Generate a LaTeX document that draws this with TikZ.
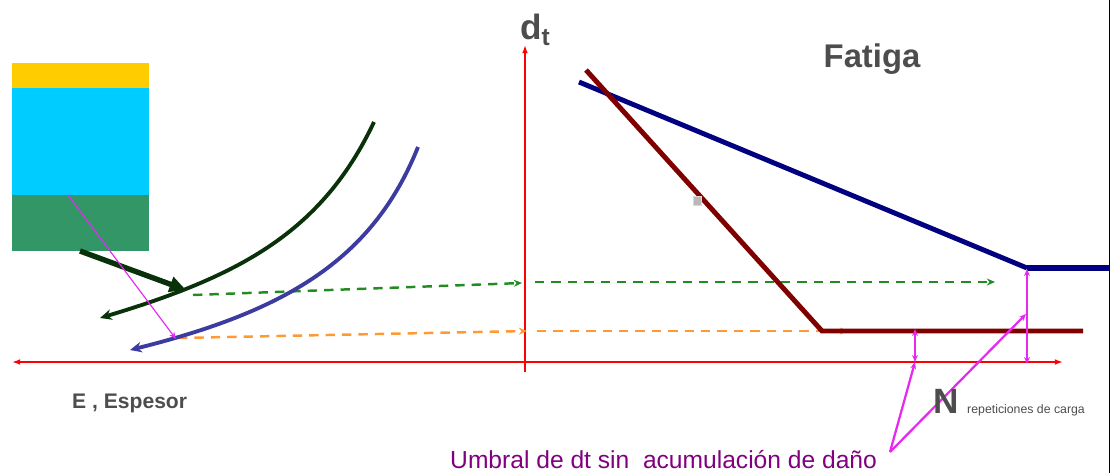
\documentclass[tikz,border=0pt]{standalone}
\usepackage{fontspec}
\setmainfont{Liberation Sans}
\usetikzlibrary{arrows.meta, positioning, calc}

\definecolor{layeryellow}{RGB}{255,204,0}
\definecolor{layercyan}{RGB}{0,204,255}
\definecolor{layergreen}{RGB}{51,150,102}
\definecolor{darkcurve}{RGB}{10,50,10}
\definecolor{bluecurve}{RGB}{60,60,160}
\definecolor{navyline}{RGB}{0,0,128}
\definecolor{brownline}{RGB}{128,0,0}
\definecolor{dashgreen}{RGB}{34,139,34}
\definecolor{dashorange}{RGB}{255,153,51}
\definecolor{labelgray}{RGB}{77,77,77}
\definecolor{umbral}{RGB}{128,0,128}
\definecolor{pointer}{RGB}{230,40,240}

\begin{document}
\begin{tikzpicture}[
    x=0.03cm, y=-0.03cm,
    axis/.style={draw=red, line width=1.5pt},
    law/.style={line width=4.2pt},
    curve/.style={line width=3.3pt, -{Stealth[length=10pt, width=9pt]}},
    proj/.style={dashed, dash pattern=on 8pt off 6pt, line width=2.1pt, -{Stealth[length=7pt, width=6pt]}},
    marker/.style={draw=pointer, line width=1.9pt},
    title/.style={font=\bfseries, text=labelgray, inner sep=0pt},
]
\useasboundingbox (0,0) rectangle (1117,473);

% pavement layers
\fill[layeryellow] (12,63) rectangle (149,88);
\fill[layercyan] (12,88) rectangle (149,195);
\fill[layergreen] (12,195) rectangle (149,251);

% axes
\coordinate (origin) at (525,362);
\coordinate (xleft) at (12,362);
\coordinate (xright) at (1063,362);
\coordinate (ybot) at (525,372);
\coordinate (ytop) at (525,45);
\draw[axis, -{Latex[length=7pt, width=5pt]}] (origin) -- (xleft);
\draw[axis, -{Latex[length=7pt, width=5pt]}] (origin) -- (xright);
\draw[axis, -{Latex[length=7pt, width=5pt]}] (ybot) -- (ytop);

% projections
\coordinate (gstart) at (193,295);
\coordinate (gmid) at (522,283);
\coordinate (gnext) at (535,282);
\coordinate (gend) at (995,282);
\coordinate (ostart) at (178,338);
\coordinate (omid) at (527,331);
\coordinate (onext) at (537,331);
\coordinate (oend) at (848,331);
\draw[proj, dashgreen] (gstart) -- (gmid);
\draw[proj, dashgreen] (gnext) -- (gend);
\draw[proj, dashorange] (ostart) -- (omid);
\draw[proj, dashorange] (onext) -- (oend);

% deflection curves
\coordinate (c1a) at (374,122);
\coordinate (c1b) at (100,318);
\coordinate (c2a) at (418,147);
\coordinate (c2b) at (130,350);
\draw[curve, darkcurve] (c1a) .. controls (322,232) and (240,276) .. (c1b);
\draw[curve, bluecurve] (c2a) .. controls (372,262) and (282,312) .. (c2b);

% pointers from layers
\coordinate (p1a) at (80,251);
\coordinate (p1b) at (186,290);
\coordinate (p2a) at (68,195);
\coordinate (p2b) at (176,339);
\draw[darkcurve, line width=4.6pt, -{Triangle[length=14pt, width=13pt]}] (p1a) -- (p1b);
\draw[pointer, line width=1pt, -{Stealth[length=6pt, width=5pt]}] (p2a) -- (p2b);

% fatigue laws
\coordinate (b1) at (579,82);
\coordinate (b2) at (1027,268);
\coordinate (b3) at (1110,268);
\coordinate (r1) at (586,70);
\coordinate (r2) at (822,331);
\coordinate (r3) at (1083,331);
\draw[law, navyline] (b1) -- (b2);
\draw[navyline, line width=5.6pt] (b2) -- (b3);
\draw[law, brownline] (r1) -- (r2) -- (r3);

% small icon
\node[fill=gray!55, draw=gray!30, minimum width=7pt, minimum height=8pt, inner sep=0pt] (icon) at (697,201) {};

% threshold marks
\coordinate (tip) at (890,452);
\coordinate (m1a) at (915,362);
\coordinate (m1b) at (915,329);
\coordinate (m2a) at (1027,364);
\coordinate (m2b) at (1027,269);
\coordinate (m2c) at (1026,314);
\draw[marker, {Stealth[length=6pt, width=5pt]}-{Stealth[length=6pt, width=5pt]}] (m1a) -- (m1b);
\draw[marker, {Stealth[length=6pt, width=5pt]}-{Stealth[length=6pt, width=5pt]}] (m2a) -- (m2b);
\draw[marker, -{Stealth[length=6pt, width=5pt]}] (tip) -- (m1a);
\draw[marker, -{Stealth[length=6pt, width=5pt]}] (tip) -- (m2c);

% frame edge
\draw[black, line width=0.8pt] (1109,0) -- (1109,473);

% labels
\node[title, font=\bfseries\fontsize{30}{30}\selectfont, anchor=base west] (dt) at (520,39) {d\textsubscript{t}};
\node[title, font=\bfseries\fontsize{28}{28}\selectfont, anchor=base] (fatiga) at (872,67) {Fatiga};
\node[title, font=\bfseries\fontsize{18}{18}\selectfont, anchor=base west] (espesor) at (72,408) {E , Espesor};
\node[title, font=\bfseries\fontsize{30}{30}\selectfont, anchor=base west] (nlabel) at (933,413) {N};
\node[text=labelgray, font=\fontsize{10.5}{11}\selectfont, inner sep=0pt, anchor=base west] (rep) at (967,413) {repeticiones de carga};
\node[text=umbral, font=\fontsize{21}{21}\selectfont, inner sep=0pt, anchor=base west] (umbraltext) at (450,468) {Umbral de dt sin\ \ acumulación de daño};
\end{tikzpicture}
\end{document}
